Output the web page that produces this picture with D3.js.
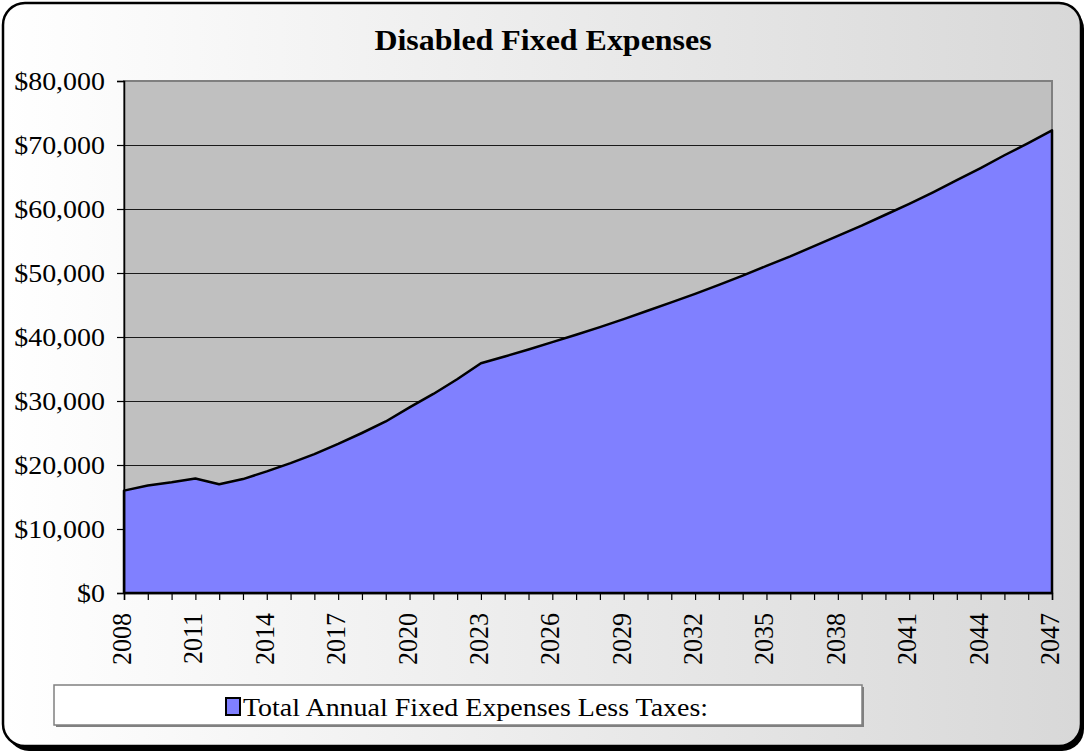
<!DOCTYPE html>
<html>
<head>
<meta charset="utf-8">
<script src="https://cdn.jsdelivr.net/npm/d3@7"></script>
<style>
  html, body { margin: 0; padding: 0; background: #ffffff; }
  svg { display: block; }
  text { font-family: "Liberation Serif", "Times New Roman", serif; fill: #000; }
</style>
</head>
<body>
<svg id="chart" width="1090" height="754"></svg>
<script>
// Projected yearly totals (dollars)
const years = d3.range(2008, 2048);
const expenses = [
  16000, 16800, 17300, 17900, 17000, 17800, 19000, 20300, 21700, 23300,
  25000, 26800, 29000, 31100, 33400, 35900, 36950, 38050, 39200, 40350,
  41550, 42800, 44100, 45400, 46750, 48150, 49600, 51100, 52600, 54200,
  55800, 57400, 59100, 60800, 62600, 64500, 66400, 68400, 70300, 72300
];
const yTicks = [0, 10000, 20000, 30000, 40000, 50000, 60000, 70000, 80000];
const xLabelYears = d3.range(2008, 2048, 3);
const chartTitle = "Disabled Fixed Expenses";
const seriesName = "Total Annual Fixed Expenses Less Taxes:";

const svg = d3.select("#chart");
const plot = { left: 124, right: 1052, top: 81, bottom: 593 };
const stretch = 1.075; // horizontal text widening

// Background panel with horizontal gradient
const defs = svg.append("defs");
const grad = defs.append("linearGradient").attr("id", "bg").attr("x1", 0).attr("x2", 1).attr("y1", 0).attr("y2", 0);
grad.append("stop").attr("offset", "0%").attr("stop-color", "#ffffff");
grad.append("stop").attr("offset", "100%").attr("stop-color", "#d8d8d8");

// drop shadow of the frame
svg.append("rect")
  .attr("x", 7).attr("y", 7).attr("width", 1077).attr("height", 744)
  .attr("rx", 22).attr("ry", 22)
  .attr("fill", "#000");
svg.append("rect")
  .attr("x", 3).attr("y", 3).attr("width", 1078).attr("height", 743)
  .attr("rx", 22).attr("ry", 22)
  .attr("fill", "url(#bg)")
  .attr("stroke", "#000").attr("stroke-width", 2.5);

const x = d3.scaleLinear().domain([2008, 2047]).range([plot.left, plot.right]);
const y = d3.scaleLinear().domain([0, 80000]).range([plot.bottom, plot.top]);

// Plot area
svg.append("rect")
  .attr("x", plot.left).attr("y", plot.top)
  .attr("width", plot.right - plot.left).attr("height", plot.bottom - plot.top)
  .attr("fill", "#c0c0c0")
  .attr("stroke", "#808080").attr("stroke-width", 2);

// Horizontal gridlines
svg.append("g")
  .selectAll("line")
  .data(yTicks.filter(d => d > 0 && d < 80000))
  .join("line")
  .attr("x1", plot.left).attr("x2", plot.right)
  .attr("y1", d => y(d) + 0.5).attr("y2", d => y(d) + 0.5)
  .attr("stroke", "#1a1a1a").attr("stroke-width", 1)
  .attr("shape-rendering", "crispEdges");

// Area series
const data = years.map((yr, i) => ({ year: yr, value: expenses[i] }));
const area = d3.area()
  .x(d => x(d.year))
  .y0(y(0))
  .y1(d => y(d.value));
svg.append("path")
  .datum(data)
  .attr("d", area)
  .attr("fill", "#8080ff")
  .attr("stroke", "#000")
  .attr("stroke-width", 2.5)
  .attr("stroke-linejoin", "round");

// Y axis
const yAxis = d3.axisLeft(y)
  .tickValues(yTicks)
  .tickSize(7)
  .tickPadding(12)
  .tickFormat(d => "$" + d3.format(",")(d));
const gy = svg.append("g")
  .attr("transform", `translate(${plot.left},0)`)
  .call(yAxis);
gy.select(".domain").attr("stroke", "#000").attr("stroke-width", 1.5);
gy.selectAll(".tick line").attr("stroke", "#000").attr("stroke-width", 1.2);
gy.selectAll(".tick text")
  .style("font-size", "26px")
  .attr("fill", "#000")
  .each(function () {
    const t = d3.select(this);
    const xv = +t.attr("x");
    t.attr("x", 0).attr("transform", `translate(${xv},0) scale(${stretch},1)`);
  });

// X axis: a tick every year, labels every third year
const xAxis = d3.axisBottom(x)
  .tickValues(years)
  .tickSize(7)
  .tickFormat("");
const gx = svg.append("g")
  .attr("transform", `translate(0,${plot.bottom})`)
  .call(xAxis);
gx.select(".domain").attr("stroke", "#000").attr("stroke-width", 1.5);
gx.selectAll(".tick line").attr("stroke", "#000").attr("stroke-width", 1.2);

svg.append("g")
  .selectAll("text")
  .data(xLabelYears)
  .join("text")
  .attr("transform", d => `translate(${x(d) + 7},${plot.bottom + 20}) rotate(-90) scale(1,${stretch})`)
  .attr("text-anchor", "end")
  .style("font-size", "26px")
  .text(d => d);

// Title
svg.append("text")
  .attr("transform", `translate(543,50) scale(1.065,1)`)
  .attr("text-anchor", "middle")
  .style("font-size", "30px")
  .style("font-weight", "bold")
  .text(chartTitle);

// Legend
const legend = svg.append("g");
legend.append("rect")
  .attr("x", 56).attr("y", 687).attr("width", 808).attr("height", 40)
  .attr("fill", "#808080");
legend.append("rect")
  .attr("x", 54).attr("y", 685).attr("width", 808).attr("height", 40)
  .attr("fill", "#ffffff")
  .attr("stroke", "#808080").attr("stroke-width", 1.5);
legend.append("rect")
  .attr("x", 226).attr("y", 698).attr("width", 14).attr("height", 17)
  .attr("fill", "#8080ff")
  .attr("stroke", "#000").attr("stroke-width", 2);
legend.append("text")
  .attr("transform", `translate(243,716) scale(${stretch},1)`)
  .style("font-size", "26px")
  .text(seriesName);
</script>
</body>
</html>
